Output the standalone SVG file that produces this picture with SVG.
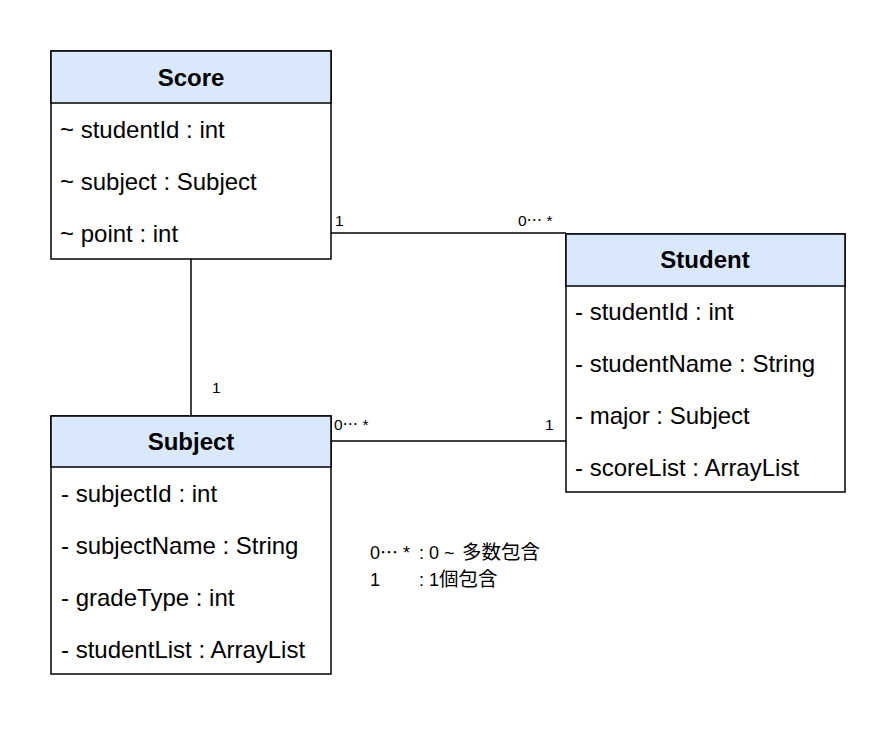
<svg xmlns="http://www.w3.org/2000/svg" width="896" height="732" viewBox="0 0 896 732">
<style>
.hd{fill:#dae8fc;stroke:#000;stroke-width:1.5}
.bd{fill:#fff;stroke:#000;stroke-width:1.5}
.t{font-family:"Liberation Sans",Arial,sans-serif;font-size:24px;fill:#000}
.b{font-weight:bold;text-anchor:middle}
.s{font-family:"Liberation Sans","Noto Sans CJK JP",sans-serif;font-size:15.5px;fill:#000}
.l{font-family:"Liberation Sans","Noto Sans CJK JP",sans-serif;font-size:18px;fill:#000}
.j{font-family:"Noto Sans CJK JP",sans-serif;font-size:19.5px;fill:#000}
.c{stroke:#000;stroke-width:1.5;fill:none}
</style>
<rect width="896" height="732" fill="#fff"/>
<g id="connectors">
<path class="c" d="M331 233H566"/>
<path class="c" d="M191 259V416"/>
<path class="c" d="M331 441H566"/>
<text class="s" x="335" y="226">1</text>
<text class="s" x="518" y="226">0⋯ *</text>
<text class="s" x="212" y="393">1</text>
<text class="s" x="334" y="430">0⋯ *</text>
<text class="s" x="545" y="430">1</text>
</g>
<g id="score">
<rect class="bd" x="51" y="51" width="280" height="208"/>
<rect class="hd" x="51" y="51" width="280" height="52"/>
<text class="t b" x="191" y="86">Score</text>
<text class="t" x="60" y="138">~ studentId : int</text>
<text class="t" x="60" y="190">~ subject : Subject</text>
<text class="t" x="60" y="242">~ point : int</text>
</g>
<g id="student">
<rect class="bd" x="566" y="234" width="279" height="258"/>
<rect class="hd" x="566" y="234" width="279" height="52"/>
<text class="t b" x="705" y="268">Student</text>
<text class="t" x="575" y="320">- studentId : int</text>
<text class="t" x="575" y="372">- studentName : String</text>
<text class="t" x="575" y="424">- major : Subject</text>
<text class="t" x="575" y="476">- scoreList : ArrayList</text>
</g>
<g id="subject">
<rect class="bd" x="51" y="416" width="280" height="258"/>
<rect class="hd" x="51" y="416" width="280" height="51"/>
<text class="t b" x="191" y="450">Subject</text>
<text class="t" x="61" y="502">- subjectId : int</text>
<text class="t" x="61" y="554">- subjectName : String</text>
<text class="t" x="61" y="606">- gradeType : int</text>
<text class="t" x="61" y="658">- studentList : ArrayList</text>
</g>
<g id="legend">
<text class="l" x="370" y="559">0⋯ *</text>
<text class="l" x="419" y="559">: 0 ~</text>
<text class="j" x="462" y="559">多数包含</text>
<text class="l" x="370" y="586">1</text>
<text class="l" x="419" y="586">: 1</text>
<text class="j" x="439" y="586">個包含</text>
</g>
</svg>
